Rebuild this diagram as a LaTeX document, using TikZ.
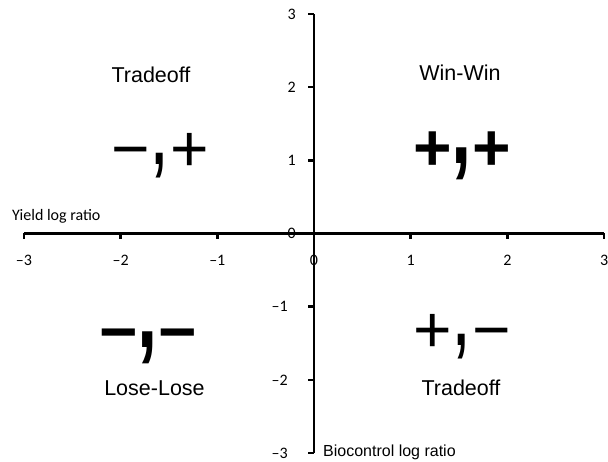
\documentclass[tikz,border=0pt]{standalone}
\usepackage{fontspec}
\usepackage{graphicx}
\setmainfont{Liberation Sans}
\newfontfamily\tickfont{Carlito}
\usetikzlibrary{positioning}

\newcommand{\signcomma}{\raisebox{7pt}{\scalebox{1.1}[1.6]{,}}}

\begin{document}
\begin{tikzpicture}[x=96.7pt, y=73.17pt,
  axisline/.style={line width=2.5pt},
  ticklabel/.style={font=\tickfont\fontsize{16}{16}\selectfont, inner sep=0pt},
  quadlabel/.style={font=\fontsize{21.5}{21.5}\selectfont, inner sep=0pt, anchor=base},
  signlabel/.style={font=\fontsize{66}{66}\selectfont, inner sep=0pt, anchor=base}]

\useasboundingbox (-314pt,-228.5pt) rectangle (294pt,233.5pt);

\coordinate (xmin) at (-3,0);
\coordinate (xmax) at (3,0);
\coordinate (ymin) at (0,-3);
\coordinate (ymax) at (0,3);

\draw[axisline] (xmin) -- (xmax);
\draw[axisline] (ymin) -- (ymax);

\foreach \i in {-3,...,3} {
  \draw[axisline] (\i,0) -- ++(0,-5.5pt);
  \draw[axisline] (0,\i) -- ++(-5.5pt,0);
}

\foreach \i/\t [count=\k] in {-3/–3, -2/–2, -1/–1, 0/0, 1/1, 2/2, 3/3}
  \node[ticklabel] (xlab\k) at (\i,-26.5pt) {\t};

\foreach \i [count=\k] in {0,1,2,3}
  \node[ticklabel, anchor=east, xshift=-18pt] (ylabp\k) at (0,\i) {\i};
\foreach \i/\t [count=\k] in {-1/–1, -2/–2, -3/–3}
  \node[ticklabel, anchor=east, xshift=-26pt] (ylabn\k) at (0,\i) {\t};

\node[font=\tickfont\fontsize{16}{16}\selectfont, anchor=base west, inner sep=0pt] (yieldlab) at (-302pt,13pt) {Yield log ratio};
\node[font=\fontsize{16}{16}\selectfont, anchor=base west, inner sep=0pt] (biolab) at (9pt,-223pt) {Biocontrol log ratio};

\node[quadlabel] (tradeofftl) at (-163pt,151pt) {Tradeoff};
\node[quadlabel] (winwin) at (146pt,153pt) {Win-Win};
\node[quadlabel] (loselose) at (-159.5pt,-162pt) {Lose-Lose};
\node[quadlabel] (tradeoffbr) at (147pt,-162pt) {Tradeoff};

\node[signlabel] (signtl) at (-154pt,61.7pt) {−\signcomma+};
\node[signlabel] (signtr) at (148pt,62.7pt) {\bfseries +\signcomma+};
\node[signlabel] (signbl) at (-166pt,-121.3pt) {\bfseries −\signcomma−};
\node[signlabel] (signbr) at (148pt,-119.3pt) {+\signcomma−};

\end{tikzpicture}
\end{document}
